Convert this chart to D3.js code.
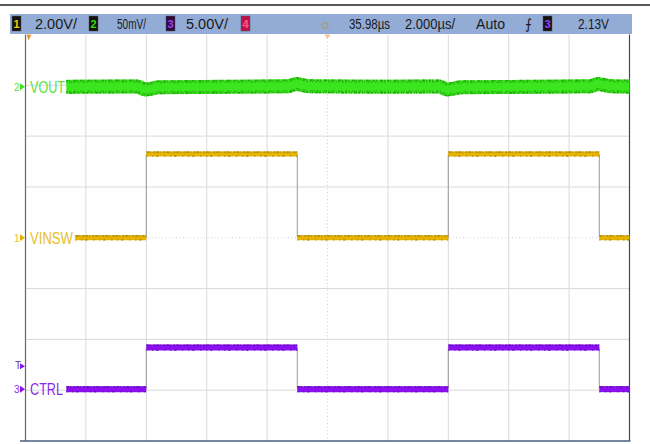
<!DOCTYPE html>
<html><head><meta charset="utf-8">
<script src="https://cdn.jsdelivr.net/npm/d3@7"></script>
<style>body{margin:0;background:#fff}svg{display:block}</style>
</head><body>
<svg id="c" width="650" height="444"></svg>
<script>
// ---- data ----
const timeDomain = [-10, 10];          // µs (2.000 µs/div, 10 div)
const divDomain = [4, -4];             // vertical divisions
const edges = [-6, -1, 4, 9];          // switching instants, µs
const vinswLevels = [0, 3.3, 0, 3.3, 0];   // V  (ch1, 2.00 V/div)
const ctrlLevels  = [0, 4.1, 0, 4.1, 0];   // V  (ch3, 5.00 V/div)
const voutT  = [-8.65, -6.3, -6.05, -5.9, -5.6, -3, -1.3, -1.05, -0.9, -0.6, 2, 3.7, 3.95, 4.1, 4.4, 7, 8.7, 8.95, 9.1, 9.4, 10];
const voutMv = [0, 0.4, -2.5, -2.2, -0.5, 0.2, 0.5, 2.8, 2.2, 0.6, 0.2, 0.4, -2.5, -2.2, -0.5, 0.2, 0.5, 2.8, 2.2, 0.6, 0.3]; // mV (ch2, 50 mV/div)
const traceStart = {vout: -8.65, vinsw: -8.35, ctrl: -8.65};
const channels = [
  {name: "VOUT",  id: "2", offsetDiv: 2.97, perDiv: 50,  color: "#3ce61e", label: "#5ee040", dark: "#1e9a0a", w: 35},
  {name: "VINSW", id: "1", offsetDiv: 0,    perDiv: 2,   color: "#e6b400", label: "#e8c030", dark: "#8c6e00", w: 43},
  {name: "CTRL",  id: "3", offsetDiv: -2.98, perDiv: 5,  color: "#8c0ff0", label: "#8a2ae8", dark: "#5200a0", w: 33}
];
const headerItems = [
  {box: "1", boxBg: "#111", boxFg: "#f0d000", x: 12},
  {text: "2.00V/", x: 35, w: 42},
  {box: "2", boxBg: "#111", boxFg: "#30e000", x: 89},
  {text: "50mV/", x: 117, w: 29},
  {box: "3", boxBg: "#2a0a3a", boxFg: "#a040ff", x: 166},
  {text: "5.00V/", x: 186, w: 42},
  {box: "4", boxBg: "#c0104a", boxFg: "#ff5a8a", x: 241},
  {text: "☼", x: 319, w: 13},
  {text: "35.98µs", x: 349, w: 41},
  {text: "2.000µs/", x: 405, w: 50},
  {text: "Auto", x: 476, w: 29},
  {text: "⨍", x: 525, w: 7},
  {box: "3", boxBg: "#111", boxFg: "#a040ff", x: 543},
  {text: "2.13V", x: 578, w: 31}
];
const triggerLevelV = 2.26;

// ---- drawing ----
const svg = d3.select("#c");
const L = 25.5, R = 629.5, T = 34.5, B = 441;
const x = d3.scaleLinear().domain(timeDomain).range([L, R]);
const y = d3.scaleLinear().domain(divDomain).range([T, B]);
const font = "'Liberation Sans','DejaVu Sans',Arial,sans-serif";

// top rule
svg.append("line").attr("x1", 0).attr("x2", 650).attr("y1", 5).attr("y2", 5)
  .attr("stroke", "#222").attr("stroke-width", 1.5);

// header bar
svg.append("rect").attr("x", 10).attr("y", 14).attr("width", 622).attr("height", 20)
  .attr("fill", "#93acd6");
const hg = svg.append("g").attr("font-family", font).attr("font-size", 13.5).attr("fill", "#111");
headerItems.forEach(h => {
  if (h.box) {
    hg.append("rect").attr("x", h.x).attr("y", 16).attr("width", 9).attr("height", 15)
      .attr("fill", h.boxBg).attr("stroke", "#555").attr("stroke-width", 0.5);
    hg.append("text").attr("x", h.x + 4.5).attr("y", 28).attr("text-anchor", "middle")
      .attr("font-size", 11).attr("font-weight", "bold").attr("fill", h.boxFg).text(h.box);
  } else {
    hg.append("text").attr("x", h.x).attr("y", 29).text(h.text)
      .attr("fill", h.text === "☼" ? "#b08a2a" : "#1a1a1a")
      .attr("font-size", h.text === "☼" ? 15 : 14)
      .attr("textLength", h.w).attr("lengthAdjust", "spacingAndGlyphs");
  }
});

// grid
const grid = svg.append("g");
const xt = d3.range(timeDomain[0], timeDomain[1] + 0.01, 2);
const yt = d3.range(-4, 4.01, 1);
grid.selectAll(".vx").data(xt.filter(t => t !== 0 && t !== -10 && t !== 10)).join("line")
  .attr("x1", d => x(d)).attr("x2", d => x(d)).attr("y1", T).attr("y2", B)
  .attr("stroke", "#d9d9d9").attr("stroke-width", 1);
grid.selectAll(".hy").data(yt.filter(d => d !== 0 && d !== -4 && d !== 4)).join("line")
  .attr("x1", L).attr("x2", R).attr("y1", d => y(d)).attr("y2", d => y(d))
  .attr("stroke", "#d9d9d9").attr("stroke-width", 1);
// center dotted axes
grid.append("line").attr("x1", x(0)).attr("x2", x(0)).attr("y1", T).attr("y2", B)
  .attr("stroke", "#cfcfcf").attr("stroke-dasharray", "1,2.5");
grid.append("line").attr("x1", L).attr("x2", R).attr("y1", y(0)).attr("y2", y(0))
  .attr("stroke", "#cfcfcf").attr("stroke-dasharray", "1,2.5");
// border
svg.append("line").attr("x1", L).attr("x2", L).attr("y1", T).attr("y2", B).attr("stroke", "#666").attr("stroke-width", 1.2);
svg.append("line").attr("x1", R).attr("x2", R).attr("y1", T).attr("y2", B).attr("stroke", "#3a4a66").attr("stroke-width", 1.2);
svg.append("line").attr("x1", 20).attr("x2", R + 1).attr("y1", B).attr("y2", B).attr("stroke", "#4a5f80").attr("stroke-width", 1.5);

// trigger markers (top)
svg.append("path").attr("d", `M${L + 1},${T} l5,0 l-3,6 z`).attr("fill", "#e8963a");
svg.append("path").attr("d", `M${x(0) - 3},${T} l6,0 l-3,5 z`).attr("fill", "#f0c890");

const yOf = (ch, v) => y(ch.offsetDiv + v / ch.perDiv);

// VOUT
const chV = channels[0];
const voutData = voutT.map((t, i) => [t, voutMv[i]]);
const vline = d3.line().x(d => x(d[0])).y(d => yOf(chV, d[1])).curve(d3.curveMonotoneX);
svg.append("path").datum(voutData).attr("d", vline).attr("fill", "none")
  .attr("stroke", chV.color).attr("stroke-width", 14);
[-6, -4.5, 4.5, 6].forEach((off, k) => {
  svg.append("path").datum(voutData.map(d => [d[0], d[1] + off]))
    .attr("d", vline).attr("fill", "none").attr("stroke", chV.dark)
    .attr("stroke-width", Math.abs(off) > 5 ? 1.6 : 0.9)
    .attr("stroke-dasharray", k % 2 ? "2,1,1,3,3,1,1,2" : "1,2,3,1,2,2,1,1")
    .attr("opacity", 0.85);
});

// square-wave channels
function square(ch, levels, start, width) {
  const bounds = [start, ...edges, timeDomain[1]];
  const segs = levels.map((v, i) => ({t0: bounds[i], t1: bounds[i + 1], v}));
  const g = svg.append("g");
  edges.forEach((e, i) => {
    g.append("line").attr("x1", x(e)).attr("x2", x(e))
      .attr("y1", yOf(ch, levels[i])).attr("y2", yOf(ch, levels[i + 1]))
      .attr("stroke", "#9a9a9a").attr("stroke-width", 1);
  });
  g.selectAll(".seg").data(segs).join("line")
    .attr("x1", d => x(d.t0)).attr("x2", d => x(d.t1))
    .attr("y1", d => yOf(ch, d.v)).attr("y2", d => yOf(ch, d.v))
    .attr("stroke", ch.color).attr("stroke-width", width);
  g.selectAll(".segt").data(segs).join("line")
    .attr("x1", d => x(d.t0)).attr("x2", d => x(d.t1))
    .attr("y1", d => yOf(ch, d.v) - width / 2 + 0.6).attr("y2", d => yOf(ch, d.v) - width / 2 + 0.6)
    .attr("stroke", ch.dark).attr("stroke-width", 1).attr("stroke-dasharray", "3,1,1,2,2,1");
  g.selectAll(".segb").data(segs).join("line")
    .attr("x1", d => x(d.t0)).attr("x2", d => x(d.t1))
    .attr("y1", d => yOf(ch, d.v) + width / 2 - 0.3).attr("y2", d => yOf(ch, d.v) + width / 2 - 0.3)
    .attr("stroke", ch.dark).attr("stroke-width", 1).attr("stroke-dasharray", "1,5,1,3,2,6");
}
square(channels[1], vinswLevels, traceStart.vinsw, 5);
square(channels[2], ctrlLevels, traceStart.ctrl, 6);

// labels & left markers
const lg = svg.append("g").attr("font-family", font);
channels.forEach(ch => {
  const yy = yOf(ch, 0);
  lg.append("text").attr("x", 30).attr("y", yy + 6).attr("font-size", 16)
    .attr("fill", ch.label).attr("textLength", ch.w).attr("lengthAdjust", "spacingAndGlyphs").text(ch.name);
  lg.append("text").attr("x", 14).attr("y", yy + 4).attr("font-size", 10)
    .attr("fill", ch.label).text(ch.id);
  lg.append("path").attr("d", `M${20},${yy - 3.5} l5,3.5 l-5,3.5 z`).attr("fill", ch.color);
});
const ty = yOf(channels[2], triggerLevelV);
lg.append("text").attr("x", 15).attr("y", ty + 3).attr("font-size", 10).attr("fill", "#6a2aa0").text("T");
lg.append("path").attr("d", `M${20},${ty - 3} l5,3 l-5,3 z`).attr("fill", "#8c0ff0");
</script>
</body></html>
